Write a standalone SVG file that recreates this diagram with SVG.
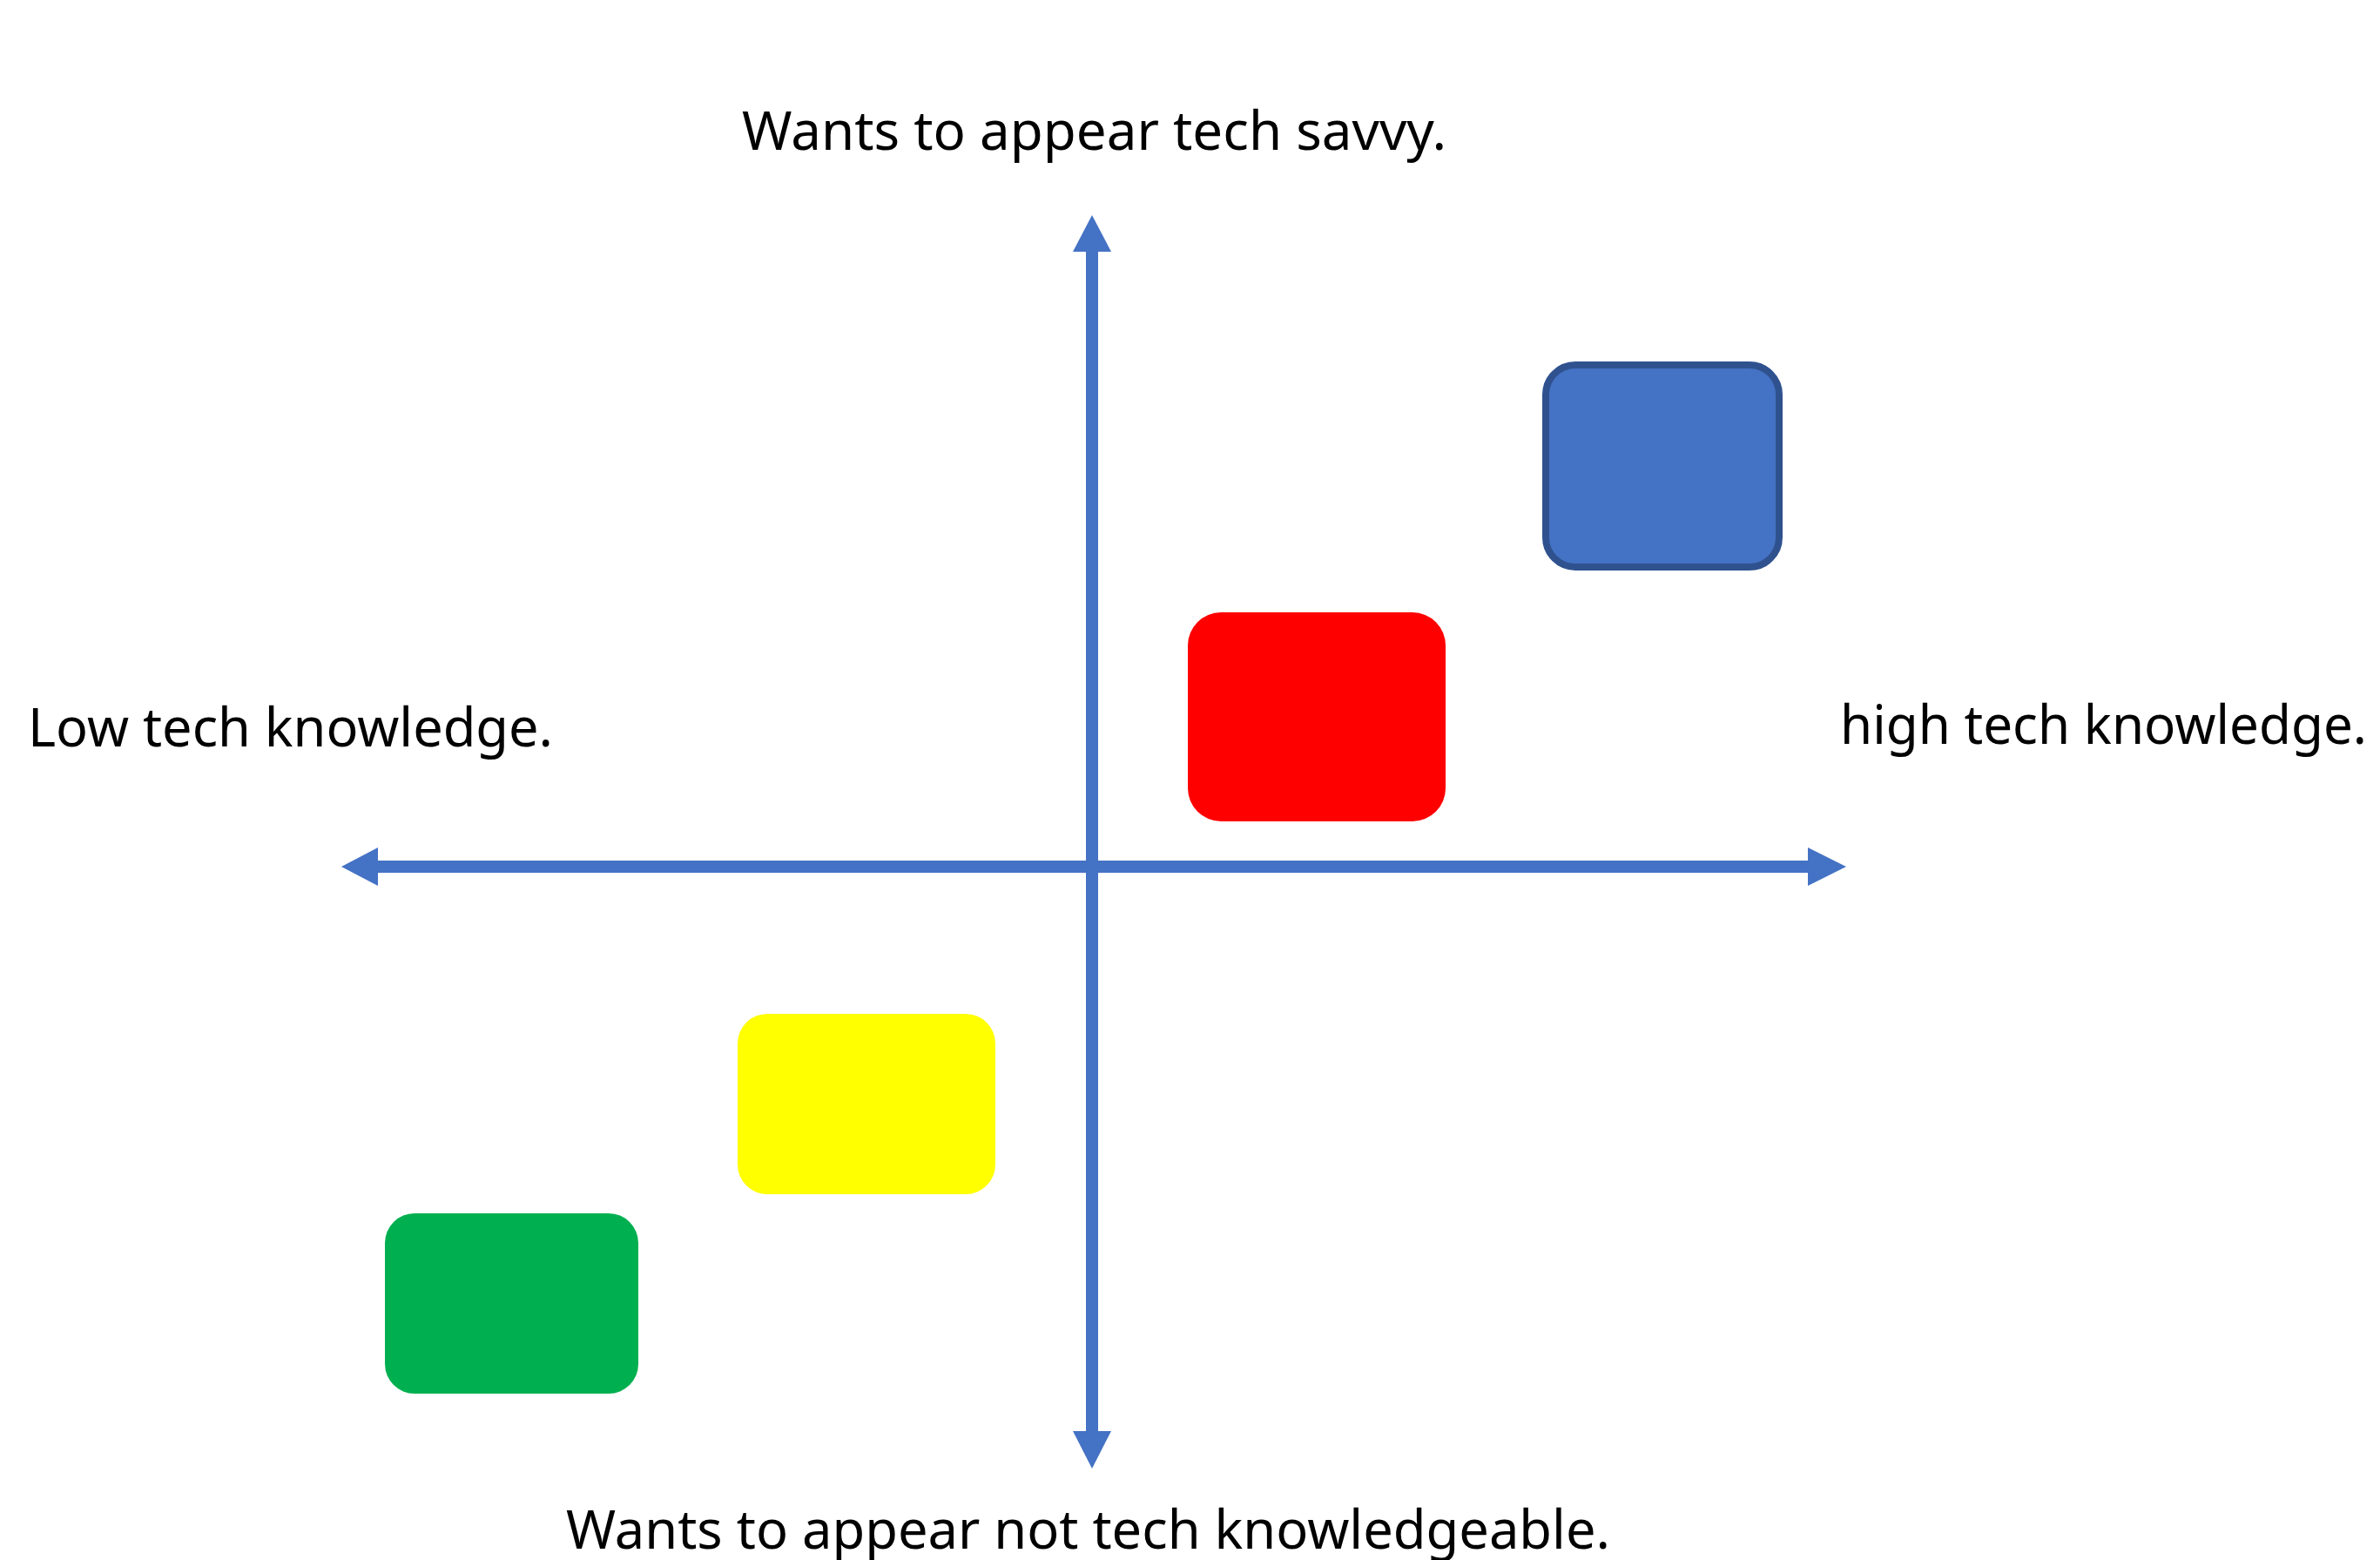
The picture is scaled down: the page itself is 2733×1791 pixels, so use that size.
<svg xmlns="http://www.w3.org/2000/svg" width="2733" height="1791" viewBox="0 0 2733 1791">
<style>
.lbl{font-family:"Noto Sans","Open Sans","DejaVu Sans",sans-serif;font-size:62px;fill:#000000}
.axis{stroke:#4472C4;stroke-width:14;fill:none}
.head{fill:#4472C4}
</style>
<rect x="0" y="0" width="2733" height="1791" fill="#ffffff"/>
<g id="connectors">
<line class="axis" x1="432" y1="995" x2="2078" y2="995"/>
<line class="axis" x1="1254" y1="287" x2="1254" y2="1645"/>
<polygon class="head" points="392,995 434,973 434,1017"/>
<polygon class="head" points="2120,995 2076,973 2076,1017"/>
<polygon class="head" points="1254,247 1232,289 1276,289"/>
<polygon class="head" points="1254,1686 1232,1643 1276,1643"/>
</g>
<g id="node-blue"><rect x="1775" y="419" width="268" height="232" rx="34" ry="34" fill="#4472C4" stroke="#2F528F" stroke-width="8"/></g>
<g id="node-red"><rect x="1364" y="703" width="296" height="240" rx="38" ry="38" fill="#FF0000"/></g>
<g id="node-yellow"><rect x="847" y="1164" width="296" height="207" rx="34" ry="34" fill="#FFFF00"/></g>
<g id="node-green"><rect x="442" y="1393" width="291" height="207" rx="34" ry="34" fill="#00B050"/></g>
<g id="labels">
<text class="lbl" x="852" y="172" textLength="809" lengthAdjust="spacingAndGlyphs">Wants to appear tech savvy.</text>
<text class="lbl" x="32" y="857" textLength="603" lengthAdjust="spacingAndGlyphs">Low tech knowledge.</text>
<text class="lbl" x="2113" y="854" textLength="605" lengthAdjust="spacingAndGlyphs">high tech knowledge.</text>
<text class="lbl" x="650" y="1778" textLength="1199" lengthAdjust="spacingAndGlyphs">Wants to appear not tech knowledgeable.</text>
</g>
</svg>
